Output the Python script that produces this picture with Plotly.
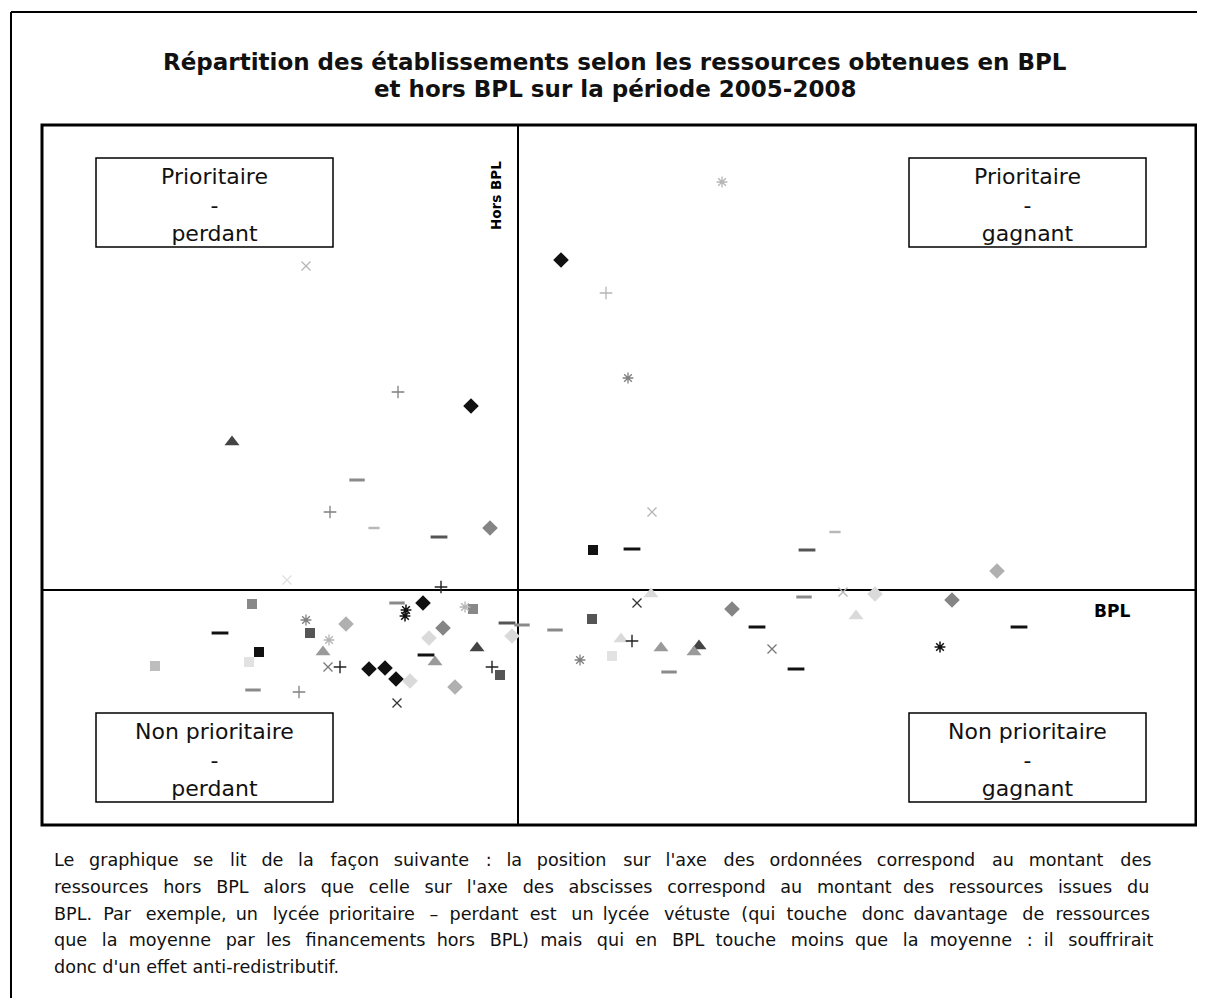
import plotly.graph_objects as go

# ---------------- data (BPL on x, hors BPL on y) ----------------
diamond_black_x = [-0.47, 0.43, -0.95, -1.49, -1.33, -1.22]
diamond_black_y = [1.84, 3.30, -0.13, -0.79, -0.78, -0.89]
diamond_gray_x = [-0.28, -0.75, 2.14, 4.34]
diamond_gray_y = [0.62, -0.38, -0.19, -0.10]
diamond_light_x = [-1.72, -0.63, 4.79]
diamond_light_y = [-0.34, -0.97, 0.19]
diamond_pale_x = [-0.89, -1.08, -0.06, 3.57]
diamond_pale_y = [-0.48, -0.91, -0.46, -0.04]

square_black_x = [0.75, -2.59]
square_black_y = [0.40, -0.62]
square_dark_x = [-2.08, 0.74, -0.18]
square_dark_y = [-0.43, -0.29, -0.85]
square_gray_x = [-2.66, -0.45]
square_gray_y = [-0.14, -0.19]
square_light_x = [-3.63]
square_light_y = [-0.76]
square_pale_x = [-2.69, 0.94]
square_pale_y = [-0.72, -0.66]

triangle_dark_x = [-2.86, 1.81, -0.41]
triangle_dark_y = [1.48, -0.56, -0.58]
triangle_gray_x = [-0.83, 1.43, 1.76, -1.95]
triangle_gray_y = [-0.72, -0.58, -0.62, -0.62]
triangle_pale_x = [1.33, 3.38, 1.03]
triangle_pale_y = [-0.04, -0.26, -0.49]

cross_dark_x = [1.19, -1.21]
cross_dark_y = [-0.13, -1.13]
cross_gray_x = [-1.90, 2.54]
cross_gray_y = [-0.77, -0.59]
cross_light_x = [-2.12, 1.34, 3.25]
cross_light_y = [3.24, 0.78, -0.02]
cross_pale_x = [-2.31]
cross_pale_y = [0.10]

star_black_x = [-1.12, -1.13, 4.22]
star_black_y = [-0.20, -0.26, -0.57]
star_gray_x = [1.10, -2.12, 0.62]
star_gray_y = [2.12, -0.30, -0.70]
star_light_x = [2.04, -1.89, -0.53]
star_light_y = [4.08, -0.50, -0.17]

plus_dark_x = [-0.77, -1.78, -0.26, 1.14]
plus_dark_y = [0.03, -0.77, -0.77, -0.51]
plus_gray_x = [-1.20, -1.88, -2.19]
plus_gray_y = [1.98, 0.78, -1.02]
plus_light_x = [0.88]
plus_light_y = [2.97]

dash_black_x = [1.14, -2.98, -0.92, 2.39, 5.01, 2.78]
dash_black_y = [0.41, -0.43, -0.65, -0.37, -0.37, -0.79]
dash_dark_x = [-0.79, 2.89, -0.11]
dash_dark_y = [0.53, 0.40, -0.33]
dash_gray_x = [-1.61, -1.21, 0.04, -2.65, 1.51, 2.86, 0.37]
dash_gray_y = [1.10, -0.13, -0.35, -1.00, -0.82, -0.07, -0.40]
dash_light_x = [-1.44, 3.17]
dash_light_y = [0.62, 0.58]

x_range = [-4.76, 6.78]
y_range = [-2.35, 4.65]

title_lines = ["Répartition des établissements selon les ressources obtenues en BPL",
               "et hors BPL sur la période 2005-2008"]
quadrant_labels = ["Prioritaire<br>-<br>perdant", "Prioritaire<br>-<br>gagnant",
                   "Non prioritaire<br>-<br>perdant", "Non prioritaire<br>-<br>gagnant"]
caption_lines = [
    "Le graphique se lit de la façon suivante : la position sur l'axe des ordonnées correspond au montant des",
    "ressources hors BPL alors que celle sur l'axe des abscisses correspond au montant des ressources issues du",
    "BPL. Par exemple, un lycée prioritaire – perdant est un lycée vétuste (qui touche donc davantage de ressources",
    "que la moyenne par les financements hors BPL) mais qui en BPL touche moins que la moyenne : il souffrirait",
    "donc d'un effet anti-redistributif.",
]
caption_justified = [True, True, True, True, False]

# ---------------- layout helpers ----------------
OFF = 8  # page body margin
W, H = 1205 - OFF, 998 - OFF
L, R, T, B = 42 - OFF, 9, 125 - OFF, 173
PW, PH = W - L - R, H - T - B


def px(xp):
    return (xp - OFF - L) / PW


def py(yp):
    return (H - B - (yp - OFF)) / PH


FONT = "DejaVu Sans"
CAP_SIZE = 17.6
CAP_LEFT, CAP_RIGHT = 52, 1152

# approximate DejaVu Sans advance widths (em)
_CW = {' ': .318, 'a': .613, 'b': .635, 'c': .550, 'd': .635, 'e': .615, 'f': .352, 'g': .635,
       'h': .634, 'i': .278, 'j': .278, 'k': .579, 'l': .278, 'm': .974, 'n': .634, 'o': .612,
       'p': .635, 'q': .635, 'r': .411, 's': .521, 't': .392, 'u': .634, 'v': .592, 'w': .818,
       'x': .592, 'y': .592, 'z': .525, 'B': .686, 'L': .557, 'P': .603, "'": .275, '(': .390,
       ')': .390, '.': .318, ',': .318, ':': .337, '-': .361, '–': .5, 'é': .615, 'ç': .550}


def text_width(s, size):
    return sum(_CW.get(c, .6) for c in s) * size


def justify(line, size, target):
    words = line.split(' ')
    gaps = len(words) - 1
    extra = target - text_width(line, size)
    if gaps <= 0 or extra <= 0:
        return line
    nb = .318 * size
    thin = .2 * size
    per_gap = extra / gaps
    out = words[0]
    err = 0.0
    for w in words[1:]:
        want = per_gap + err
        k = int(want // nb)
        rem = want - k * nb
        t = 1 if rem > thin * 0.5 else 0
        got = k * nb + t * thin
        err = want - got
        out += ' ' + '\u00a0' * k + '\u2009' * t + w
    return out


# ---------------- figure ----------------
series = [
    (diamond_black_x, diamond_black_y, "diamond", "#111111", 12, 0),
    (diamond_gray_x, diamond_gray_y, "diamond", "#858585", 12, 0),
    (diamond_light_x, diamond_light_y, "diamond", "#b0b0b0", 12, 0),
    (diamond_pale_x, diamond_pale_y, "diamond", "#dadada", 12, 0),
    (square_black_x, square_black_y, "square", "#111111", 10, 0),
    (square_dark_x, square_dark_y, "square", "#555555", 10, 0),
    (square_gray_x, square_gray_y, "square", "#888888", 10, 0),
    (square_light_x, square_light_y, "square", "#bdbdbd", 10, 0),
    (square_pale_x, square_pale_y, "square", "#e2e2e2", 10, 0),
    (triangle_dark_x, triangle_dark_y, "triangle-up", "#444444", 13, 0),
    (triangle_gray_x, triangle_gray_y, "triangle-up", "#9a9a9a", 13, 0),
    (triangle_pale_x, triangle_pale_y, "triangle-up", "#dadada", 13, 0),
    (cross_dark_x, cross_dark_y, "x-thin-open", "#333333", 9, 1.3),
    (cross_gray_x, cross_gray_y, "x-thin-open", "#777777", 9, 1.3),
    (cross_light_x, cross_light_y, "x-thin-open", "#b5b5b5", 9, 1.3),
    (cross_pale_x, cross_pale_y, "x-thin-open", "#e0e0e0", 9, 1.3),
    (star_black_x, star_black_y, "asterisk-open", "#111111", 9, 1.5),
    (star_gray_x, star_gray_y, "asterisk-open", "#808080", 9, 1.3),
    (star_light_x, star_light_y, "asterisk-open", "#b5b5b5", 9, 1.3),
    (plus_dark_x, plus_dark_y, "cross-thin-open", "#222222", 9, 1.4),
    (plus_gray_x, plus_gray_y, "cross-thin-open", "#808080", 9, 1.3),
    (plus_light_x, plus_light_y, "cross-thin-open", "#b5b5b5", 9, 1.3),
    (dash_black_x, dash_black_y, "line-ew-open", "#111111", 12, 3),
    (dash_dark_x, dash_dark_y, "line-ew-open", "#555555", 12, 3),
    (dash_gray_x, dash_gray_y, "line-ew-open", "#8a8a8a", 11, 3),
    (dash_light_x, dash_light_y, "line-ew-open", "#b8b8b8", 8, 2.5),
]

fig = go.Figure()
for i, (xs, ys, sym, col, size, lw) in enumerate(series):
    marker = dict(symbol=sym, size=size, color=col)
    marker["line"] = dict(color=col, width=lw) if lw else dict(width=0)
    fig.add_trace(go.Scatter(x=xs, y=ys, mode="markers", marker=marker,
                             name=f"Série {i + 1}", showlegend=False,
                             cliponaxis=False))

shapes = []
# outer frame (left and top edges visible)
shapes.append(dict(type="line", xref="paper", yref="paper",
                   x0=px(11), x1=px(11), y0=py(12), y1=py(1010),
                   line=dict(color="#000", width=2)))
shapes.append(dict(type="line", xref="paper", yref="paper",
                   x0=px(11), x1=px(1215), y0=py(12), y1=py(12),
                   line=dict(color="#000", width=2)))
# plot frame
shapes.append(dict(type="rect", xref="paper", yref="paper", x0=0, x1=1, y0=0, y1=1,
                   line=dict(color="#000", width=3), layer="above"))

boxes = [(96, 333, 158, 247), (909, 1146, 158, 247),
         (96, 333, 713, 802), (909, 1146, 713, 802)]
annotations = []
for (x0, x1, y0, y1), lab in zip(boxes, quadrant_labels):
    shapes.append(dict(type="rect", xref="paper", yref="paper",
                       x0=px(x0), x1=px(x1), y0=py(y1), y1=py(y0),
                       line=dict(color="#000", width=1.5), fillcolor="white", layer="above"))
    annotations.append(dict(xref="paper", yref="paper", x=px((x0 + x1) / 2), y=py((y0 + y1) / 2 + 2),
                            text=lab, showarrow=False, xanchor="center", yanchor="middle",
                            font=dict(family=FONT, size=22, color="#111")))

for i, t in enumerate(title_lines):
    annotations.append(dict(xref="paper", yref="paper", x=px(615), y=py(62 + 27 * i),
                            text=f"<b>{t}</b>", showarrow=False, xanchor="center", yanchor="middle",
                            font=dict(family=FONT, size=23, color="#111")))

for i, (t, j) in enumerate(zip(caption_lines, caption_justified)):
    txt = justify(t, CAP_SIZE, CAP_RIGHT - CAP_LEFT) if j else t
    annotations.append(dict(xref="paper", yref="paper", x=px(CAP_LEFT), y=py(860 + 26.8 * i),
                            text=txt, showarrow=False, xanchor="left", yanchor="middle",
                            font=dict(family=FONT, size=CAP_SIZE, color="#111")))

annotations.append(dict(xref="paper", yref="paper", x=px(496), y=py(196),
                        text="<b>Hors BPL</b>", textangle=-90, showarrow=False,
                        xanchor="center", yanchor="middle",
                        font=dict(family=FONT, size=13.5, color="#000")))
annotations.append(dict(xref="paper", yref="paper", x=px(1112), y=py(611),
                        text="<b>BPL</b>", showarrow=False,
                        xanchor="center", yanchor="middle",
                        font=dict(family=FONT, size=17, color="#000")))

fig.update_layout(
    width=W, height=H,
    margin=dict(l=L, r=R, t=T, b=B, pad=0),
    paper_bgcolor="white", plot_bgcolor="white",
    shapes=shapes, annotations=annotations,
    xaxis=dict(range=x_range, showgrid=False, showticklabels=False, ticks="",
               zeroline=True, zerolinecolor="#000", zerolinewidth=1.5, fixedrange=True),
    yaxis=dict(range=y_range, showgrid=False, showticklabels=False, ticks="",
               zeroline=True, zerolinecolor="#000", zerolinewidth=1.5, fixedrange=True),
)

fig.write_html("out.html", config={"displayModeBar": False})
